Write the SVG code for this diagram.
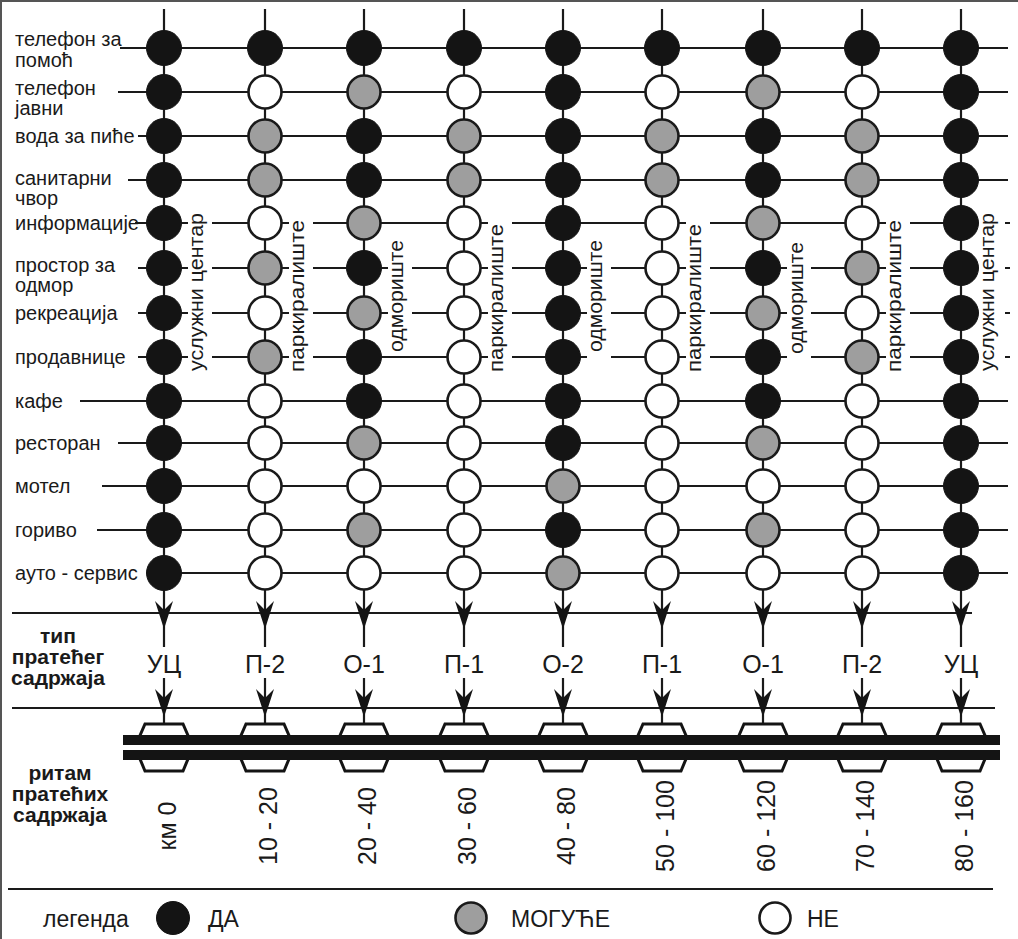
<svg xmlns="http://www.w3.org/2000/svg" width="1018" height="939" viewBox="0 0 1018 939">
<style>
  .ln{stroke:#1a1a1a;stroke-width:2.2;fill:none}
  .da{fill:#141414;stroke:#141414;stroke-width:1}
  .mo{fill:#9e9e9e;stroke:#1a1a1a;stroke-width:2.6}
  .ne{fill:#ffffff;stroke:#1a1a1a;stroke-width:2.6}
  .ah{fill:#141414}
  .hex{fill:#ffffff;stroke:#141414;stroke-width:3;stroke-linejoin:miter}
  text{font-family:"Liberation Sans",Arial,sans-serif;fill:#1a1a1a}
  .lb{font-size:20px}
  .vl{font-size:21px;text-anchor:middle}
  .ty{font-size:25px;text-anchor:middle}
  .km{font-size:25px;text-anchor:middle}
  .bd{font-size:21px;font-weight:bold;text-anchor:middle}
  .lg{font-size:23px}
</style>
<rect x="0" y="0" width="1018" height="939" fill="#ffffff"/>
<path d="M0 1H1018M1 0V939" stroke="#555" stroke-width="2"/>

<g id="connectors">
  <path class="ln" d="M164 9V647M265 9V647M364 9V647M464 9V647M563 9V647M662 9V647M763 9V647M862 9V647M961 9V647"/>
  <path class="ln" d="M164 678V725M265 678V725M364 678V725M464 678V725M563 678V725M662 678V725M763 678V725M862 678V725M961 678V725"/>
  <path class="ln" d="M120 48H1008M118 92H1008M138 136H1008M128 180H1008"/>
  <path class="ln" d="M135 223H188M212 223H289M313 223H488M512 223H686M710 223H886M910 223H961M1005 223H1010"/>
  <path class="ln" d="M138 268H188M212 268H289M313 268H388M412 268H488M512 268H587M611 268H686M710 268H787M811 268H886M910 268H961M1005 268H1010"/>
  <path class="ln" d="M138 313H188M212 313H289M313 313H388M412 313H488M512 313H587M611 313H686M710 313H787M811 313H886M910 313H961M1005 313H1010"/>
  <path class="ln" d="M138 357H188M212 357H289M313 357H488M512 357H587M611 357H686M710 357H787M811 357H886M910 357H961M1005 357H1010"/>
  <path class="ln" d="M80 401H1008M118 443H1008M102 486H1008M97 530H1008M147 573H1008"/>
  <path class="ln" d="M12 613H972M12 708H995M8 889H993"/>
  <g class="ah">
    <polygon points="164,629 155,601 164,610 173,601"/>
    <polygon points="265,629 256,601 265,610 274,601"/>
    <polygon points="364,629 355,601 364,610 373,601"/>
    <polygon points="464,629 455,601 464,610 473,601"/>
    <polygon points="563,629 554,601 563,610 572,601"/>
    <polygon points="662,629 653,601 662,610 671,601"/>
    <polygon points="763,629 754,601 763,610 772,601"/>
    <polygon points="862,629 853,601 862,610 871,601"/>
    <polygon points="961,629 952,601 961,610 970,601"/>
    <polygon points="164,717 155,689 164,698 173,689"/>
    <polygon points="265,717 256,689 265,698 274,689"/>
    <polygon points="364,717 355,689 364,698 373,689"/>
    <polygon points="464,717 455,689 464,698 473,689"/>
    <polygon points="563,717 554,689 563,698 572,689"/>
    <polygon points="662,717 653,689 662,698 671,689"/>
    <polygon points="763,717 754,689 763,698 772,689"/>
    <polygon points="862,717 853,689 862,698 871,689"/>
    <polygon points="961,717 952,689 961,698 970,689"/>
  </g>
</g>

<g id="row-labels">
  <text class="lb" x="15" y="46">телефон за</text>
  <text class="lb" x="15" y="67">помоћ</text>
  <text class="lb" x="15" y="95">телефон</text>
  <text class="lb" x="15" y="115">јавни</text>
  <text class="lb" x="15" y="143">вода за пиће</text>
  <text class="lb" x="15" y="185">санитарни</text>
  <text class="lb" x="15" y="205">чвор</text>
  <text class="lb" x="15" y="230">информације</text>
  <text class="lb" x="15" y="272">простор за</text>
  <text class="lb" x="15" y="292">одмор</text>
  <text class="lb" x="15" y="320">рекреација</text>
  <text class="lb" x="15" y="364">продавнице</text>
  <text class="lb" x="15" y="408">кафе</text>
  <text class="lb" x="15" y="450">ресторан</text>
  <text class="lb" x="15" y="493">мотел</text>
  <text class="lb" x="15" y="537">гориво</text>
  <text class="lb" x="15" y="580">ауто - сервис</text>
  <text class="bd" x="58" y="643">тип</text>
  <text class="bd" x="58" y="664">пратећег</text>
  <text class="bd" x="58" y="685">садржаја</text>
  <text class="bd" x="60" y="780">ритам</text>
  <text class="bd" x="60" y="801">пратећих</text>
  <text class="bd" x="60" y="822">садржаја</text>
</g>

<g id="hexagons">
  <polygon class="hex" points="145,724 183,724 193,747 183,771 145,771 135,747"/>
  <polygon class="hex" points="246,724 284,724 294,747 284,771 246,771 236,747"/>
  <polygon class="hex" points="345,724 383,724 393,747 383,771 345,771 335,747"/>
  <polygon class="hex" points="445,724 483,724 493,747 483,771 445,771 435,747"/>
  <polygon class="hex" points="544,724 582,724 592,747 582,771 544,771 534,747"/>
  <polygon class="hex" points="643,724 681,724 691,747 681,771 643,771 633,747"/>
  <polygon class="hex" points="744,724 782,724 792,747 782,771 744,771 734,747"/>
  <polygon class="hex" points="843,724 881,724 891,747 881,771 843,771 833,747"/>
  <polygon class="hex" points="942,724 980,724 990,747 980,771 942,771 932,747"/>
</g>
<g id="road">
  <rect x="123" y="735" width="877" height="25" fill="#141414"/>
  <rect x="123" y="745" width="877" height="5" fill="#ffffff"/>
</g>

<g id="col-1">
  <circle class="da" cx="164" cy="48" r="17.5"/><circle class="da" cx="164" cy="92" r="17.5"/><circle class="da" cx="164" cy="136" r="17.5"/><circle class="da" cx="164" cy="180" r="17.5"/><circle class="da" cx="164" cy="223" r="17.5"/><circle class="da" cx="164" cy="268" r="17.5"/><circle class="da" cx="164" cy="313" r="17.5"/><circle class="da" cx="164" cy="357" r="17.5"/><circle class="da" cx="164" cy="401" r="17.5"/><circle class="da" cx="164" cy="443" r="17.5"/><circle class="da" cx="164" cy="486" r="17.5"/><circle class="da" cx="164" cy="530" r="17.5"/><circle class="da" cx="164" cy="573" r="17.5"/>
  <text class="vl" transform="translate(203,292) rotate(-90)" textLength="158" lengthAdjust="spacingAndGlyphs">услужни центар</text>
  <text class="ty" x="164" y="673">УЦ</text>
  <text class="km" transform="translate(176,826) rotate(-90)">км 0</text>
</g>
<g id="col-2">
  <circle class="da" cx="265" cy="48" r="17.5"/><circle class="ne" cx="265" cy="92" r="16.5"/><circle class="mo" cx="265" cy="136" r="16.5"/><circle class="mo" cx="265" cy="180" r="16.5"/><circle class="ne" cx="265" cy="223" r="16.5"/><circle class="mo" cx="265" cy="268" r="16.5"/><circle class="ne" cx="265" cy="313" r="16.5"/><circle class="mo" cx="265" cy="357" r="16.5"/><circle class="ne" cx="265" cy="401" r="16.5"/><circle class="ne" cx="265" cy="443" r="16.5"/><circle class="ne" cx="265" cy="486" r="16.5"/><circle class="ne" cx="265" cy="530" r="16.5"/><circle class="ne" cx="265" cy="573" r="16.5"/>
  <text class="vl" transform="translate(304,296) rotate(-90)" textLength="152" lengthAdjust="spacingAndGlyphs">паркиралиште</text>
  <text class="ty" x="265" y="673">П-2</text>
  <text class="km" transform="translate(277,826) rotate(-90)">10 - 20</text>
</g>
<g id="col-3">
  <circle class="da" cx="364" cy="48" r="17.5"/><circle class="mo" cx="364" cy="92" r="16.5"/><circle class="da" cx="364" cy="136" r="17.5"/><circle class="da" cx="364" cy="180" r="17.5"/><circle class="mo" cx="364" cy="223" r="16.5"/><circle class="da" cx="364" cy="268" r="17.5"/><circle class="mo" cx="364" cy="313" r="16.5"/><circle class="da" cx="364" cy="357" r="17.5"/><circle class="da" cx="364" cy="401" r="17.5"/><circle class="mo" cx="364" cy="443" r="16.5"/><circle class="ne" cx="364" cy="486" r="16.5"/><circle class="mo" cx="364" cy="530" r="16.5"/><circle class="ne" cx="364" cy="573" r="16.5"/>
  <text class="vl" transform="translate(403,296) rotate(-90)" textLength="112" lengthAdjust="spacingAndGlyphs">одмориште</text>
  <text class="ty" x="364" y="673">О-1</text>
  <text class="km" transform="translate(376,826) rotate(-90)">20 - 40</text>
</g>
<g id="col-4">
  <circle class="da" cx="464" cy="48" r="17.5"/><circle class="ne" cx="464" cy="92" r="16.5"/><circle class="mo" cx="464" cy="136" r="16.5"/><circle class="mo" cx="464" cy="180" r="16.5"/><circle class="ne" cx="464" cy="223" r="16.5"/><circle class="ne" cx="464" cy="268" r="16.5"/><circle class="ne" cx="464" cy="313" r="16.5"/><circle class="ne" cx="464" cy="357" r="16.5"/><circle class="ne" cx="464" cy="401" r="16.5"/><circle class="ne" cx="464" cy="443" r="16.5"/><circle class="ne" cx="464" cy="486" r="16.5"/><circle class="ne" cx="464" cy="530" r="16.5"/><circle class="ne" cx="464" cy="573" r="16.5"/>
  <text class="vl" transform="translate(503,298) rotate(-90)" textLength="148" lengthAdjust="spacingAndGlyphs">паркиралиште</text>
  <text class="ty" x="464" y="673">П-1</text>
  <text class="km" transform="translate(476,826) rotate(-90)">30 - 60</text>
</g>
<g id="col-5">
  <circle class="da" cx="563" cy="48" r="17.5"/><circle class="da" cx="563" cy="92" r="17.5"/><circle class="da" cx="563" cy="136" r="17.5"/><circle class="da" cx="563" cy="180" r="17.5"/><circle class="da" cx="563" cy="223" r="17.5"/><circle class="da" cx="563" cy="268" r="17.5"/><circle class="da" cx="563" cy="313" r="17.5"/><circle class="da" cx="563" cy="357" r="17.5"/><circle class="da" cx="563" cy="401" r="17.5"/><circle class="da" cx="563" cy="443" r="17.5"/><circle class="mo" cx="563" cy="486" r="16.5"/><circle class="da" cx="563" cy="530" r="17.5"/><circle class="mo" cx="563" cy="573" r="16.5"/>
  <text class="vl" transform="translate(602,296) rotate(-90)" textLength="112" lengthAdjust="spacingAndGlyphs">одмориште</text>
  <text class="ty" x="563" y="673">О-2</text>
  <text class="km" transform="translate(575,826) rotate(-90)">40 - 80</text>
</g>
<g id="col-6">
  <circle class="da" cx="662" cy="48" r="17.5"/><circle class="ne" cx="662" cy="92" r="16.5"/><circle class="mo" cx="662" cy="136" r="16.5"/><circle class="mo" cx="662" cy="180" r="16.5"/><circle class="ne" cx="662" cy="223" r="16.5"/><circle class="ne" cx="662" cy="268" r="16.5"/><circle class="ne" cx="662" cy="313" r="16.5"/><circle class="ne" cx="662" cy="357" r="16.5"/><circle class="ne" cx="662" cy="401" r="16.5"/><circle class="ne" cx="662" cy="443" r="16.5"/><circle class="ne" cx="662" cy="486" r="16.5"/><circle class="ne" cx="662" cy="530" r="16.5"/><circle class="ne" cx="662" cy="573" r="16.5"/>
  <text class="vl" transform="translate(701,298) rotate(-90)" textLength="148" lengthAdjust="spacingAndGlyphs">паркиралиште</text>
  <text class="ty" x="662" y="673">П-1</text>
  <text class="km" transform="translate(674,826) rotate(-90)">50 - 100</text>
</g>
<g id="col-7">
  <circle class="da" cx="763" cy="48" r="17.5"/><circle class="mo" cx="763" cy="92" r="16.5"/><circle class="da" cx="763" cy="136" r="17.5"/><circle class="da" cx="763" cy="180" r="17.5"/><circle class="mo" cx="763" cy="223" r="16.5"/><circle class="da" cx="763" cy="268" r="17.5"/><circle class="mo" cx="763" cy="313" r="16.5"/><circle class="da" cx="763" cy="357" r="17.5"/><circle class="da" cx="763" cy="401" r="17.5"/><circle class="mo" cx="763" cy="443" r="16.5"/><circle class="ne" cx="763" cy="486" r="16.5"/><circle class="mo" cx="763" cy="530" r="16.5"/><circle class="ne" cx="763" cy="573" r="16.5"/>
  <text class="vl" transform="translate(803,298) rotate(-90)" textLength="112" lengthAdjust="spacingAndGlyphs">одмориште</text>
  <text class="ty" x="763" y="673">О-1</text>
  <text class="km" transform="translate(775,826) rotate(-90)">60 - 120</text>
</g>
<g id="col-8">
  <circle class="da" cx="862" cy="48" r="17.5"/><circle class="ne" cx="862" cy="92" r="16.5"/><circle class="mo" cx="862" cy="136" r="16.5"/><circle class="mo" cx="862" cy="180" r="16.5"/><circle class="ne" cx="862" cy="223" r="16.5"/><circle class="mo" cx="862" cy="268" r="16.5"/><circle class="ne" cx="862" cy="313" r="16.5"/><circle class="mo" cx="862" cy="357" r="16.5"/><circle class="ne" cx="862" cy="401" r="16.5"/><circle class="ne" cx="862" cy="443" r="16.5"/><circle class="ne" cx="862" cy="486" r="16.5"/><circle class="ne" cx="862" cy="530" r="16.5"/><circle class="ne" cx="862" cy="573" r="16.5"/>
  <text class="vl" transform="translate(901,296) rotate(-90)" textLength="152" lengthAdjust="spacingAndGlyphs">паркиралиште</text>
  <text class="ty" x="862" y="673">П-2</text>
  <text class="km" transform="translate(874,826) rotate(-90)">70 - 140</text>
</g>
<g id="col-9">
  <circle class="da" cx="961" cy="48" r="17.5"/><circle class="da" cx="961" cy="92" r="17.5"/><circle class="da" cx="961" cy="136" r="17.5"/><circle class="da" cx="961" cy="180" r="17.5"/><circle class="da" cx="961" cy="223" r="17.5"/><circle class="da" cx="961" cy="268" r="17.5"/><circle class="da" cx="961" cy="313" r="17.5"/><circle class="da" cx="961" cy="357" r="17.5"/><circle class="da" cx="961" cy="401" r="17.5"/><circle class="da" cx="961" cy="443" r="17.5"/><circle class="da" cx="961" cy="486" r="17.5"/><circle class="da" cx="961" cy="530" r="17.5"/><circle class="da" cx="961" cy="573" r="17.5"/>
  <text class="vl" transform="translate(994,292) rotate(-90)" textLength="158" lengthAdjust="spacingAndGlyphs">услужни центар</text>
  <text class="ty" x="961" y="673">УЦ</text>
  <text class="km" transform="translate(973,826) rotate(-90)">80 - 160</text>
</g>

<g id="legend">
  <text class="lg" x="43" y="927">легенда</text>
  <circle class="da" cx="173" cy="918" r="16.5"/>
  <text class="lg" x="208" y="927">ДА</text>
  <circle class="mo" cx="471" cy="918" r="15.5"/>
  <text class="lg" x="511" y="927">МОГУЋЕ</text>
  <circle class="ne" cx="775" cy="918" r="15.5"/>
  <text class="lg" x="807" y="927">НЕ</text>
</g>
</svg>
